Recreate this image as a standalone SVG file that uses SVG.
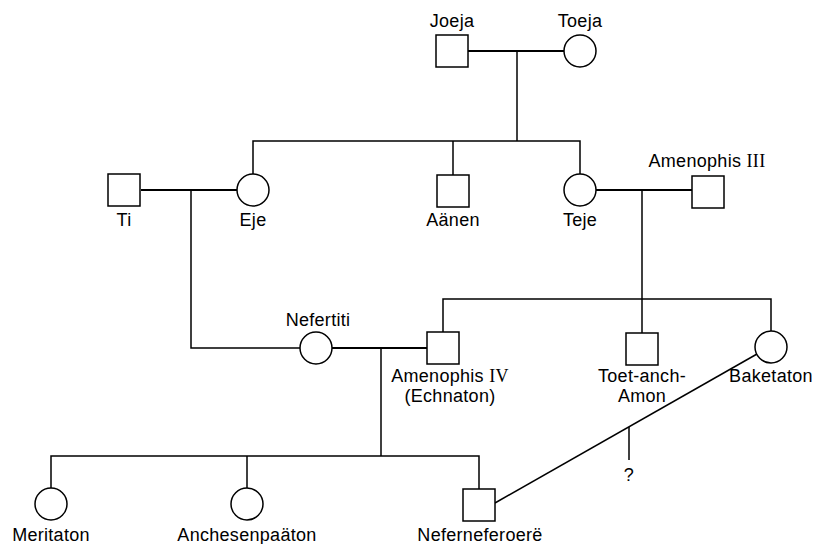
<svg xmlns="http://www.w3.org/2000/svg" width="816" height="544" viewBox="0 0 816 544">
<style>
.sym{fill:#fff;stroke:#000;stroke-width:1.5}
.ln{fill:none;stroke:#000;stroke-width:1.5}
.mar{fill:none;stroke:#000;stroke-width:2}
text{font-family:"Liberation Sans",Arial,sans-serif;font-size:18px;fill:#000;text-anchor:middle;letter-spacing:0.3px}
.rn{font-family:"Liberation Serif","Times New Roman",serif}
</style>
<rect width="816" height="544" fill="#fff"/>
<g id="connectors">
<line class="mar" x1="468" y1="51" x2="564" y2="51"/>
<line class="ln" x1="517" y1="51" x2="517" y2="141"/>
<polyline class="ln" points="253,174 253,141 580,141 580,174"/>
<line class="ln" x1="453" y1="141" x2="453" y2="175"/>
<line class="mar" x1="141" y1="190" x2="237" y2="190"/>
<polyline class="ln" points="191,190 191,348 300,348"/>
<line class="mar" x1="596" y1="190" x2="692" y2="190"/>
<line class="ln" x1="642" y1="190" x2="642" y2="299"/>
<polyline class="ln" points="443,332 443,299 771,299 771,331"/>
<line class="ln" x1="642" y1="299" x2="642" y2="333"/>
<line class="mar" x1="332" y1="348" x2="427" y2="348"/>
<line class="ln" x1="381" y1="348" x2="381" y2="456"/>
<polyline class="ln" points="51,488 51,456 479,456 479,489"/>
<line class="ln" x1="247" y1="456" x2="247" y2="488"/>
<line class="ln" x1="495" y1="503" x2="757" y2="354"/>
<line class="ln" x1="629" y1="427" x2="629" y2="460"/>
<text x="629" y="481">?</text>
</g>
<g id="joeja"><rect class="sym" x="436" y="35" width="32" height="32"/><text x="452" y="27">Joeja</text></g>
<g id="toeja"><circle class="sym" cx="580" cy="51" r="16"/><text x="580" y="27">Toeja</text></g>
<g id="ti"><rect class="sym" x="108" y="174" width="32" height="32"/><text x="124" y="226">Ti</text></g>
<g id="eje"><circle class="sym" cx="253" cy="190" r="16"/><text x="253" y="226">Eje</text></g>
<g id="aanen"><rect class="sym" x="437" y="175" width="32" height="32"/><text x="453" y="226">Aänen</text></g>
<g id="teje"><circle class="sym" cx="580" cy="190" r="16"/><text x="580" y="226">Teje</text></g>
<g id="amenophis3"><rect class="sym" x="692" y="176" width="32" height="32"/><text x="707" y="167">Amenophis <tspan class="rn">III</tspan></text></g>
<g id="nefertiti"><circle class="sym" cx="316" cy="348" r="16"/><text x="318" y="326">Nefertiti</text></g>
<g id="amenophis4"><rect class="sym" x="427" y="332" width="32" height="32"/><text x="450" y="382">Amenophis <tspan class="rn">IV</tspan></text><text x="450" y="402">(Echnaton)</text></g>
<g id="toetanchamon"><rect class="sym" x="626" y="333" width="32" height="32"/><text x="642" y="382">Toet-anch-</text><text x="642" y="402">Amon</text></g>
<g id="baketaton"><circle class="sym" cx="771" cy="347" r="16"/><text x="771" y="382">Baketaton</text></g>
<g id="meritaton"><circle class="sym" cx="51" cy="504" r="16"/><text x="51" y="541">Meritaton</text></g>
<g id="anchesenpaaton"><circle class="sym" cx="247" cy="504" r="16"/><text x="247" y="541">Anchesenpaäton</text></g>
<g id="neferneferoere"><rect class="sym" x="463" y="489" width="32" height="32"/><text x="480" y="541">Neferneferoerë</text></g>
</svg>
